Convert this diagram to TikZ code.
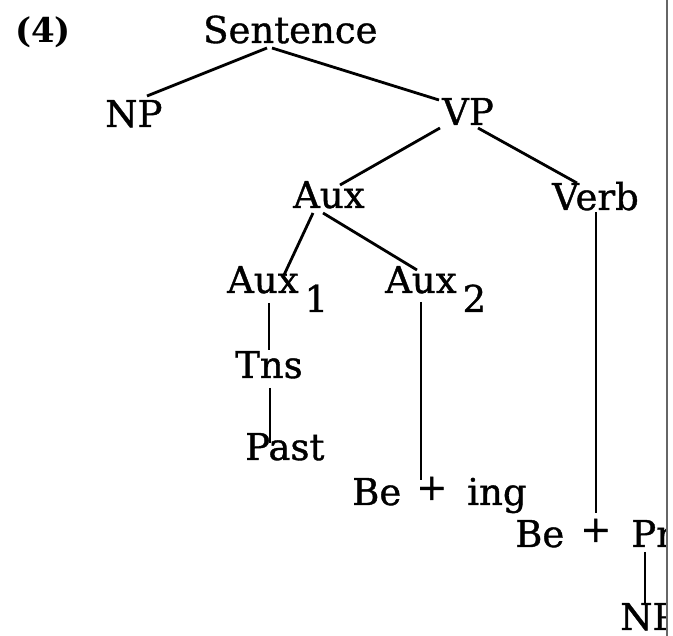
\documentclass[tikz,border=0pt]{standalone}
\usepackage{fontspec}
\setmainfont{DejaVu Serif}
\newfontfamily\heavy[FakeBold=1]{DejaVu Serif}
\newcommand{\lowsub}[1]{\hspace{6pt}\raisebox{-19pt}{#1}}
\newcommand{\rplus}{\raisebox{5pt}{+}}
\tikzset{
  lbl/.style={anchor=base west, inner sep=0pt, font=\heavy\fontsize{37}{42}\selectfont},
  edge/.style={line width=2.8pt, black},
  frame/.style={line width=1.5pt, black!60}
}
\begin{document}
\begin{tikzpicture}[x=1pt,y=-1pt]
\useasboundingbox (0,0) rectangle (673,636);
\begin{scope}
\clip (0,0) rectangle (666,636);
\node[lbl, font=\bfseries\fontsize{34}{40}\selectfont] (num) at (15,43) {(4)};
\node[lbl] (sent) at (203,43) {Sentence};
\node[lbl] (np1) at (105,127) {NP};
\node[lbl] (vp) at (442,125) {VP};
\node[lbl] (aux) at (293,208) {Aux};
\node[lbl] (verb) at (552,210) {Verb};
\node[lbl] (auxa) at (227,293) {Aux\lowsub{1}};
\node[lbl] (auxb) at (385,293) {Aux\lowsub{2}};
\node[lbl] (tns) at (235,378) {Tns};
\node[lbl] (past) at (245,460) {Past};
\node[lbl] (bei) at (352,505) {Be\hspace{15pt}\rplus\hspace{20pt}ing};
\node[lbl] (bepr) at (515,547) {Be\hspace{16pt}\rplus\hspace{20pt}Pr};
\node[lbl] (np2) at (620,630) {NP};
\draw[edge] ([shift={(64,5)}]sent.base west) -- ([shift={(42,-31)}]np1.base west);
\draw[edge] ([shift={(69,5)}]sent.base west) -- ([shift={(-3,-25)}]vp.base west);
\draw[edge] ([shift={(-2,3)}]vp.base west) -- ([shift={(47,-23)}]aux.base west);
\draw[edge] ([shift={(36,3)}]vp.base west) -- ([shift={(25,-27)}]verb.base west);
\draw[edge] ([shift={(20,5)}]aux.base west) -- ([shift={(57,-18)}]auxa.base west);
\draw[edge] ([shift={(30,5)}]aux.base west) -- ([shift={(32,-23)}]auxb.base west);
\draw[edge] ([shift={(42,10)}]auxa.base west) -- ([shift={(34,-28)}]tns.base west);
\draw[edge] ([shift={(35,10)}]tns.base west) -- ([shift={(25,-17)}]past.base west);
\draw[edge] ([shift={(36,9)}]auxb.base west) -- ([shift={(69,-25)}]bei.base west);
\draw[edge] ([shift={(44,2)}]verb.base west) -- ([shift={(81,-34)}]bepr.base west);
\draw[edge] ([shift={(130,5)}]bepr.base west) -- ([shift={(25,-27)}]np2.base west);
\end{scope}
\draw[frame] (667,0) -- (667,636);
\end{tikzpicture}
\end{document}
